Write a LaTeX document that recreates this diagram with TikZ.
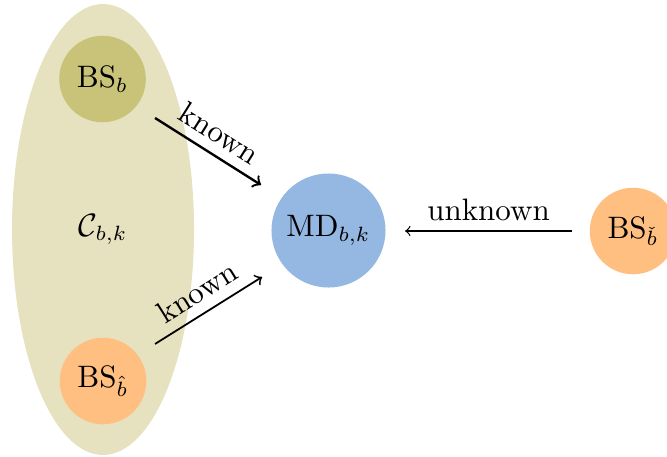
\documentclass[tikz,border=0pt]{standalone}
\usepackage{amsmath}
\usepackage{amssymb}
\usepackage{tikz}
\usetikzlibrary{shapes}

\definecolor{clusterfill}{RGB}{230,226,192}
\definecolor{servfill}{RGB}{201,195,122}
\definecolor{otherfill}{RGB}{255,191,128}
\definecolor{mdfill}{RGB}{149,184,227}

\begin{document}
\begin{tikzpicture}[font=\fontsize{10.5pt}{12.5pt}\selectfont, bs/.style={circle, minimum size=1.03cm, inner sep=0pt}]
		\useasboundingbox (0,0) rectangle (7.937,5.438);
		\node[ellipse, fill=clusterfill, minimum width=2.166cm, minimum height=5.366cm] (cl) at (1.226,2.707) {};
		\node at (cl.center) {$\mathcal{C}_{b,k}$};
		\node[bs, fill=servfill] (bs-b) at (1.220,4.498) {BS$_b$};
		\node[bs, fill=otherfill] (bs-hat) at (1.226,0.904) {BS$_{\hat{b}}$};
		\node[circle, fill=mdfill, minimum size=1.357cm, inner sep=0pt] (md) at (3.909,2.695) {MD$_{b,k}$};
		\node[bs, fill=otherfill] (bs-check) at (7.533,2.689) {BS$_{\check{b}}$};
		% arrow ends
		\coordinate (k1-s) at (1.845,4.034);
		\coordinate (k1-e) at (3.106,3.237);
		\coordinate (k2-s) at (1.845,1.345);
		\coordinate (k2-e) at (3.118,2.142);
		\coordinate (u-s) at (6.807,2.689);
		\coordinate (u-e) at (4.820,2.689);
		\draw[->, thick] (k1-s) -- node[midway, above, sloped] {known} (k1-e);
		\draw[->, semithick] (k2-s) -- node[midway, above, sloped] {known} (k2-e);
		\draw[->] (u-s) -- node[midway, above] {unknown} (u-e);
	\end{tikzpicture}
\end{document}
